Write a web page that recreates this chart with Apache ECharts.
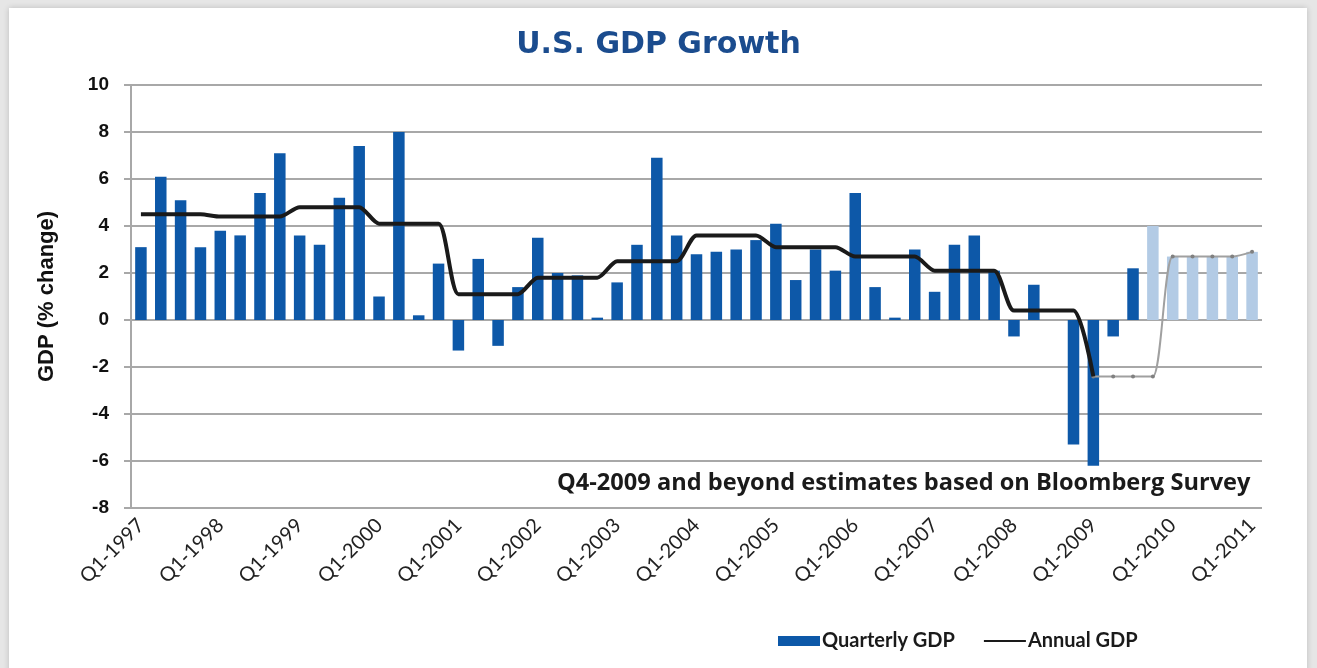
<!DOCTYPE html>
<html>
<head>
<meta charset="utf-8">
<title>U.S. GDP Growth</title>
<script src="https://cdn.jsdelivr.net/npm/echarts@6/dist/echarts.min.js"></script>
<style>
  html, body { margin: 0; padding: 0; background: #e6e6e6; }
  #chart { width: 1317px; height: 668px; }
</style>
</head>
<body>
<div id="chart"></div>
<script>
// quarters, Q1-1997 .. Q1-2011
const quarters = [
    'Q1-1997', 'Q2-1997', 'Q3-1997', 'Q4-1997',
    'Q1-1998', 'Q2-1998', 'Q3-1998', 'Q4-1998',
    'Q1-1999', 'Q2-1999', 'Q3-1999', 'Q4-1999',
    'Q1-2000', 'Q2-2000', 'Q3-2000', 'Q4-2000',
    'Q1-2001', 'Q2-2001', 'Q3-2001', 'Q4-2001',
    'Q1-2002', 'Q2-2002', 'Q3-2002', 'Q4-2002',
    'Q1-2003', 'Q2-2003', 'Q3-2003', 'Q4-2003',
    'Q1-2004', 'Q2-2004', 'Q3-2004', 'Q4-2004',
    'Q1-2005', 'Q2-2005', 'Q3-2005', 'Q4-2005',
    'Q1-2006', 'Q2-2006', 'Q3-2006', 'Q4-2006',
    'Q1-2007', 'Q2-2007', 'Q3-2007', 'Q4-2007',
    'Q1-2008', 'Q2-2008', 'Q3-2008', 'Q4-2008',
    'Q1-2009', 'Q2-2009', 'Q3-2009', 'Q4-2009',
    'Q1-2010', 'Q2-2010', 'Q3-2010', 'Q4-2010',
    'Q1-2011'
]

// quarterly GDP, % change (Q4-2009 onward are estimates)
const quarterlyGdp = [
    3.1, 6.1, 5.1, 3.1,
    3.8, 3.6, 5.4, 7.1,
    3.6, 3.2, 5.2, 7.4,
    1.0, 8.0, 0.2, 2.4,
    -1.3, 2.6, -1.1, 1.4,
    3.5, 2.0, 1.9, 0.1,
    1.6, 3.2, 6.9, 3.6,
    2.8, 2.9, 3.0, 3.4,
    4.1, 1.7, 3.0, 2.1,
    5.4, 1.4, 0.1, 3.0,
    1.2, 3.2, 3.6, 2.1,
    -0.7, 1.5, 0.0, -5.3,
    -6.2, -0.7, 2.2, 4.0,
    2.7, 2.7, 2.7, 2.7,
    2.9
]
const estimateStart = 51 // Q4-2009

// annual GDP shown on every quarter of the year
const annualGdp = [
    4.5, 4.5, 4.5, 4.5,
    4.4, 4.4, 4.4, 4.4,
    4.8, 4.8, 4.8, 4.8,
    4.1, 4.1, 4.1, 4.1,
    1.1, 1.1, 1.1, 1.1,
    1.8, 1.8, 1.8, 1.8,
    2.5, 2.5, 2.5, 2.5,
    3.6, 3.6, 3.6, 3.6,
    3.1, 3.1, 3.1, 3.1,
    2.7, 2.7, 2.7, 2.7,
    2.1, 2.1, 2.1, 2.1,
    0.4, 0.4, 0.4, 0.4,
    -2.4, null, null, null,
    null, null, null, null,
    null
]
const annualEstimate = [
    null, null, null, null,
    null, null, null, null,
    null, null, null, null,
    null, null, null, null,
    null, null, null, null,
    null, null, null, null,
    null, null, null, null,
    null, null, null, null,
    null, null, null, null,
    null, null, null, null,
    null, null, null, null,
    null, null, null, null,
    -2.4, -2.4, -2.4, -2.4,
    2.7, 2.7, 2.7, 2.7,
    2.9
]

const yTicks = { min: -8, max: 10, interval: 2 }

const darkBlue = '#0d58a8'
const lightBlue = '#b3cbe5'
const gridGrey = '#a8a8a8'

const chart = echarts.init(document.getElementById('chart'))
const option = {
    backgroundColor: '#e6e6e6',
    animation: false,
    graphic: [
        {
            type: 'rect',
            shape: { x: 9, y: 8, width: 1298, height: 680 },
            style: { fill: '#ffffff', shadowBlur: 6, shadowColor: 'rgba(0,0,0,0.18)' },
            z: -10
        },
        {
            type: 'text',
            left: 557,
            top: 471,
            style: {
                text: 'Q4-2009 and beyond estimates based on Bloomberg Survey',
                fontFamily: 'Open Sans',
                fontWeight: 'bold',
                fontSize: 23.6,
                fill: '#1a1a1a'
            },
            z: 100
        }
    ],
    title: {
        text: 'U.S. GDP Growth',
        left: 'center',
        top: 25,
        textStyle: {
            fontFamily: 'DejaVu Sans',
            fontWeight: 'bold',
            fontSize: 30,
            color: '#1b4c8e'
        }
    },
    legend: {
        left: 773,
        top: 626,
        itemWidth: 42,
        itemHeight: 10,
        itemGap: 28,
        textStyle: {
            fontFamily: 'Lato',
            fontWeight: 'bold',
            fontSize: 20,
            color: '#1a1a1a',
            padding: [0, 0, 0, -3]
        },
        data: [
            { name: 'Quarterly GDP', icon: 'rect', itemStyle: { color: darkBlue } },
            {
                name: 'Annual GDP',
                itemStyle: { color: 'transparent', borderWidth: 0 },
                lineStyle: { width: 2, color: '#1a1a1a' }
            }
        ]
    },
    grid: {
        left: 131,
        right: 55,
        top: 85,
        bottom: 160
    },
    xAxis: {
        type: 'category',
        data: quarters,
        axisLine: { show: false },
        axisTick: { show: false },
        axisLabel: {
            interval: 3,
            rotate: 45,
            margin: 14,
            fontFamily: 'Lato',
            fontSize: 20,
            color: '#222222'
        }
    },
    yAxis: {
        type: 'value',
        min: yTicks.min,
        max: yTicks.max,
        interval: yTicks.interval,
        name: 'GDP (% change)',
        nameLocation: 'middle',
        nameRotate: 90,
        nameGap: 73,
        nameTextStyle: {
            fontFamily: 'Liberation Sans',
            fontWeight: 'bold',
            fontSize: 22,
            color: '#111111'
        },
        axisLine: { show: true, lineStyle: { color: gridGrey, width: 2 } },
        axisTick: { show: true, length: 7, lineStyle: { color: gridGrey, width: 2 } },
        axisLabel: {
            margin: 22,
            fontFamily: 'Liberation Sans',
            fontWeight: 'bold',
            fontSize: 19,
            color: '#111111'
        },
        splitLine: { lineStyle: { color: gridGrey, width: 2 } }
    },
    series: [
        {
            name: 'Quarterly GDP',
            type: 'bar',
            data: quarterlyGdp,
            barWidth: '58%',
            itemStyle: {
                color: p => p.dataIndex >= estimateStart ? lightBlue : darkBlue
            },
            z: 2
        },
        {
            name: 'Annual GDP',
            type: 'line',
            data: annualGdp,
            symbol: 'none',
            smooth: 0.25,
            itemStyle: { color: '#1a1a1a' },
            lineStyle: { color: '#1a1a1a', width: 4 },
            z: 4
        },
        {
            name: 'Annual GDP estimate',
            type: 'line',
            data: annualEstimate,
            symbol: 'circle',
            symbolSize: 4,
            smooth: 0.25,
            itemStyle: { color: '#808080' },
            lineStyle: { color: '#a0a0a0', width: 2 },
            z: 3
        }
    ]
}
chart.setOption(option)
window.addEventListener('resize', () => { chart.resize() })
</script>
</body>
</html>
